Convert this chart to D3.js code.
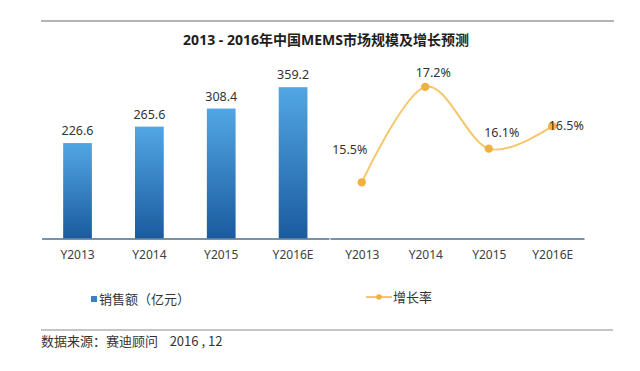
<!DOCTYPE html>
<html>
<head>
<meta charset="utf-8">
<script src="https://cdn.jsdelivr.net/npm/d3@7"></script>
<style>
  body { margin: 0; background: #fff; }
  text { font-family: "Noto Sans", "Noto Sans CJK SC", sans-serif; fill: #333; }
</style>
</head>
<body>
<div id="chart"></div>
<script>
// data
var years = ["Y2013", "Y2014", "Y2015", "Y2016E"]
var sales = [226.6, 265.6, 308.4, 359.2]
var growth = [15.5, 17.2, 16.1, 16.5]
var title = "2013 - 2016年中国MEMS市场规模及增长预测"
var salesName = "销售额（亿元）"
var growthName = "增长率"
var source = "数据来源：赛迪顾问    2016 , 12"

// label offsets for the growth points (dx, dy from the point)
var growthLabelPos = [[-12, -28], [8, -10], [13, -12], [14, 4]]

var width = 640, height = 371
var plotTop = 70, plotBottom = 238.5

var svg = d3.select("#chart").append("svg")
    .attr("width", width)
    .attr("height", height)

// gradient for the bars
var defs = svg.append("defs")
var grad = defs.append("linearGradient")
    .attr("id", "barGrad")
    .attr("x1", 0).attr("y1", 0).attr("x2", 0).attr("y2", 1)
grad.append("stop").attr("offset", "0%").attr("stop-color", "#52a6e4")
grad.append("stop").attr("offset", "100%").attr("stop-color", "#1a5b9e")

// rules top and bottom
svg.append("line")
    .attr("x1", 41).attr("x2", 614).attr("y1", 21).attr("y2", 21)
    .attr("stroke", "#b4b4b4").attr("stroke-width", 2)
svg.append("line")
    .attr("x1", 41).attr("x2", 613).attr("y1", 330).attr("y2", 330)
    .attr("stroke", "#8c8c8c").attr("stroke-width", 1.2)

// title
svg.append("text")
    .attr("x", 326).attr("y", 45)
    .attr("text-anchor", "middle")
    .style("font-size", "14px")
    .style("font-weight", "bold")
    .style("fill", "#1e1e1e")
    .text(title)

////////////////////////////////////////////////////////////////
// left: bars
var x = d3.scaleBand()
    .domain(years)
    .range([41.6, 329])
    .paddingInner(0.6)
    .paddingOuter(0.3)

var y = d3.scaleLinear()
    .domain([0, 400])
    .range([plotBottom, plotTop])

svg.selectAll(".bar")
    .data(sales)
    .enter().append("rect")
    .attr("class", "bar")
    .attr("x", (d, i) => x(years[i]))
    .attr("y", d => y(d))
    .attr("width", x.bandwidth())
    .attr("height", d => y(0) - y(d))
    .attr("fill", "url(#barGrad)")

svg.selectAll(".bar-label")
    .data(sales)
    .enter().append("text")
    .attr("class", "bar-label")
    .attr("x", (d, i) => x(years[i]) + x.bandwidth() / 2)
    .attr("y", d => y(d) - 8)
    .attr("text-anchor", "middle")
    .style("font-size", "12.5px")
    .text(d => d.toFixed(1))

var xAxis = svg.append("g")
    .attr("transform", "translate(0," + plotBottom + ")")
    .call(d3.axisBottom(x).tickSize(0).tickPadding(12))
xAxis.select(".domain").attr("stroke", "#4a6f90").attr("stroke-width", 1.3)
xAxis.selectAll("text")
    .style("font-size", "12px")
    .style("font-family", "'Noto Sans', sans-serif")
    .style("fill", "#404040")

////////////////////////////////////////////////////////////////
// right: growth line
var x2 = d3.scalePoint()
    .domain(years)
    .range([330, 584])
    .padding(0.5)

var y2 = d3.scaleLinear()
    .domain([14.5, 17.5])
    .range([plotBottom, plotTop])

var xAxis2 = svg.append("g")
    .attr("transform", "translate(0," + plotBottom + ")")
    .call(d3.axisBottom(x2).tickSize(0).tickPadding(12))
xAxis2.select(".domain").attr("stroke", "#4a6f90").attr("stroke-width", 1.3)
xAxis2.selectAll("text")
    .style("font-size", "12px")
    .style("font-family", "'Noto Sans', sans-serif")
    .style("fill", "#404040")

var line = d3.line()
    .x((d, i) => x2(years[i]))
    .y(d => y2(d))
    .curve(d3.curveCardinal.tension(0))

svg.append("path")
    .datum(growth)
    .attr("d", line)
    .attr("fill", "none")
    .attr("stroke", "#f5c76c")
    .attr("stroke-width", 2)

svg.selectAll(".dot")
    .data(growth)
    .enter().append("circle")
    .attr("class", "dot")
    .attr("cx", (d, i) => x2(years[i]))
    .attr("cy", d => y2(d))
    .attr("r", 4.2)
    .attr("fill", "#f1b13e")

svg.selectAll(".dot-label")
    .data(growth)
    .enter().append("text")
    .attr("class", "dot-label")
    .attr("x", (d, i) => x2(years[i]) + growthLabelPos[i][0])
    .attr("y", (d, i) => y2(d) + growthLabelPos[i][1])
    .attr("text-anchor", "middle")
    .style("font-size", "12.5px")
    .text(d => d.toFixed(1) + "%")

////////////////////////////////////////////////////////////////
// legends
svg.append("rect")
    .attr("x", 91).attr("y", 296).attr("width", 6).attr("height", 6)
    .attr("fill", "#3b80c2")
svg.append("text")
    .attr("x", 99).attr("y", 304)
    .style("font-size", "13px")
    .style("font-family", "'Noto Sans CJK SC', sans-serif")
    .text(salesName)

svg.append("line")
    .attr("x1", 366).attr("x2", 392).attr("y1", 297).attr("y2", 297)
    .attr("stroke", "#f5c76c").attr("stroke-width", 2)
svg.append("circle")
    .attr("cx", 379).attr("cy", 297).attr("r", 2.8)
    .attr("fill", "#f1b13e")
svg.append("text")
    .attr("x", 393).attr("y", 302)
    .style("font-size", "13px")
    .style("font-family", "'Noto Sans CJK SC', sans-serif")
    .text(growthName)

// source
svg.append("text")
    .attr("x", 41).attr("y", 346)
    .style("font-size", "13px")
    .style("font-family", "'Noto Sans CJK SC', sans-serif")
    .style("white-space", "pre")
    .text(source)
</script>
</body>
</html>
